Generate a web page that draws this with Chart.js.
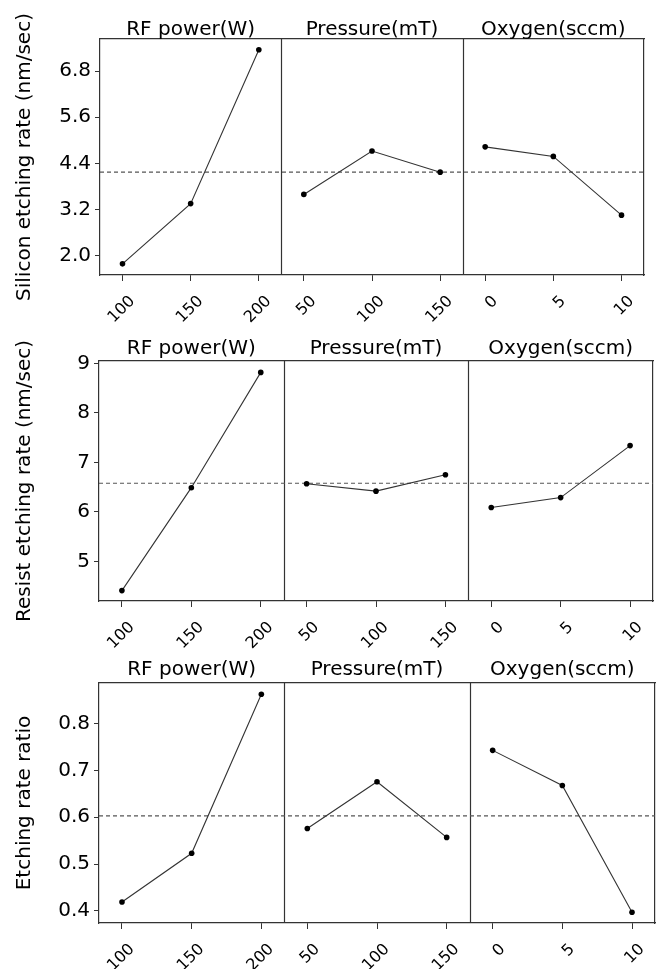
<!DOCTYPE html>
<html>
<head>
<meta charset="utf-8">
<script src="https://cdn.jsdelivr.net/npm/chart.js@4/dist/chart.umd.min.js"></script>
<style>
  body { margin: 0; background: #fff; }
  #wrap { position: relative; width: 662px; height: 969px; }
  canvas { position: absolute; left: 0; }
</style>
</head>
<body>
<div id="wrap">
  <canvas id="silicon" width="662" height="330" style="top:0px"></canvas>
  <canvas id="resist" width="662" height="322" style="top:330px"></canvas>
  <canvas id="ratio" width="662" height="317" style="top:652px"></canvas>
</div>
<script>
// factor levels
const factorNames = ['RF power(W)', 'Pressure(mT)', 'Oxygen(sccm)'];
const rfLevels = ['100', '150', '200'];
const pressureLevels = ['50', '100', '150'];
const oxygenLevels = ['0', '5', '10'];

// silicon etching rate (nm/sec)
const siliconRF = [1.78, 3.35, 7.36];
const siliconPressure = [3.59, 4.72, 4.17];
const siliconOxygen = [4.83, 4.58, 3.05];
const siliconMean = 4.17;
const siliconTicks = [2.0, 3.2, 4.4, 5.6, 6.8];

// resist etching rate (nm/sec)
const resistRF = [4.41, 6.49, 8.82];
const resistPressure = [6.57, 6.42, 6.75];
const resistOxygen = [6.09, 6.29, 7.34];
const resistMean = 6.58;
const resistTicks = [5, 6, 7, 8, 9];

// etching rate ratio
const ratioRF = [0.419, 0.523, 0.863];
const ratioPressure = [0.576, 0.676, 0.557];
const ratioOxygen = [0.743, 0.668, 0.397];
const ratioMean = 0.603;
const ratioTicks = [0.4, 0.5, 0.6, 0.7, 0.8];

const levelLabels = [rfLevels, pressureLevels, oxygenLevels];
const xLabels = levelLabels.flat();

// each panel is PANEL units wide on the shared x scale, levels sit 1 unit apart
const PANEL = 2.66;
const PAD = 0.33;
const levelPos = levelLabels.flatMap((lv, p) => lv.map((_, i) => p * PANEL + PAD + i));

Chart.defaults.font.family = '"DejaVu Sans", sans-serif';
Chart.defaults.color = '#000';

const frameColor = '#333';

// vertical lines between the three panels
const dividers = {
  id: 'dividers',
  beforeDatasetsDraw(chart) {
    const {ctx, chartArea, scales} = chart;
    ctx.save();
    ctx.strokeStyle = frameColor;
    ctx.lineWidth = 1.2;
    [1, 2].forEach(k => {
      const px = Math.round(scales.x.getPixelForValue(k * PANEL)) + 0.5;
      ctx.beginPath();
      ctx.moveTo(px, chartArea.top);
      ctx.lineTo(px, chartArea.bottom);
      ctx.stroke();
    });
    ctx.restore();
  }
};

const rows = [
  {id: 'silicon', title: 'Silicon etching rate (nm/sec)', values: [siliconRF, siliconPressure, siliconOxygen],
   mean: siliconMean, yTicks: siliconTicks, yMin: 1.49, yMax: 7.64, decimals: 1,
   box: {left: 100, right: 644, top: 39, bottom: 275}, headPad: -3},
  {id: 'resist', title: 'Resist etching rate (nm/sec)', values: [resistRF, resistPressure, resistOxygen],
   mean: resistMean, yTicks: resistTicks, yMin: 4.2, yMax: 9.05, decimals: 0,
   box: {left: 99, right: 653, top: 31, bottom: 271}, headPad: 0.5},
  {id: 'ratio', title: 'Etching rate ratio', values: [ratioRF, ratioPressure, ratioOxygen],
   mean: ratioMean, yTicks: ratioTicks, yMin: 0.374, yMax: 0.887, decimals: 1,
   box: {left: 99, right: 655, top: 31, bottom: 271}, headPad: 1.5}
];

function makeRow(row) {
  const canvas = document.getElementById(row.id);
  const H = canvas.height;

  const datasets = row.values.map((vals, p) => ({
    data: vals.map((v, i) => ({x: p * PANEL + PAD + i, y: v})),
    borderColor: '#333',
    borderWidth: 1.1,
    pointRadius: 2.8,
    pointBackgroundColor: '#000',
    pointBorderWidth: 0,
    tension: 0
  }));
  // grand mean reference line
  datasets.push({
    data: [{x: 0, y: row.mean}, {x: 3 * PANEL, y: row.mean}],
    borderColor: '#555',
    borderWidth: 1.1,
    borderDash: [4, 3],
    pointRadius: 0
  });

  new Chart(canvas, {
    type: 'line',
    data: {datasets: datasets},
    plugins: [dividers],
    options: {
      responsive: false,
      animation: false,
      devicePixelRatio: 1,
      layout: {padding: {left: 0, top: 0, bottom: 0, right: 662 - row.box.right}},
      plugins: {legend: {display: false}, tooltip: {enabled: false}},
      scales: {
        x: {
          type: 'linear', position: 'bottom', min: 0, max: 3 * PANEL, bounds: 'data',
          afterBuildTicks: s => { s.ticks = levelPos.map(v => ({value: v})); },
          afterFit: s => { s.height = H - row.box.bottom; },
          ticks: {autoSkip: false, minRotation: 45, maxRotation: 45, padding: 11, labelOffset: 10,
                  font: {size: 16}, callback: (v, i) => xLabels[i]},
          grid: {display: true, drawOnChartArea: false, drawTicks: true, tickLength: 6, color: frameColor},
          border: {display: true, color: frameColor, width: 1.2}
        },
        x2: {
          type: 'linear', position: 'top', min: 0, max: 3 * PANEL, bounds: 'data',
          afterBuildTicks: s => { s.ticks = [0.5, 1.5, 2.5].map(k => ({value: k * PANEL})); },
          afterFit: s => { s.height = row.box.top; },
          ticks: {autoSkip: false, maxRotation: 0, minRotation: 0, padding: row.headPad,
                  font: {size: 20}, callback: (v, i) => factorNames[i]},
          grid: {display: false, drawTicks: false, tickLength: 0},
          border: {display: true, color: frameColor, width: 1.2}
        },
        y: {
          type: 'linear', position: 'left', min: row.yMin, max: row.yMax, bounds: 'data',
          afterBuildTicks: s => { s.ticks = row.yTicks.map(v => ({value: v})); },
          afterFit: s => { s.width = row.box.left; },
          ticks: {font: {size: 20}, padding: 4, callback: v => v.toFixed(row.decimals)},
          grid: {display: true, drawOnChartArea: false, drawTicks: true, tickLength: 5, color: frameColor},
          border: {display: true, color: frameColor, width: 1.2},
          title: {display: true, text: row.title, font: {size: 20}, padding: {top: 13, bottom: 0}}
        },
        y2: {
          type: 'linear', position: 'right', min: row.yMin, max: row.yMax,
          afterFit: s => { s.width = 0; },
          ticks: {display: false},
          grid: {display: false},
          border: {display: true, color: frameColor, width: 1.2}
        }
      }
    }
  });
}

rows.forEach(makeRow);
</script>
</body>
</html>
